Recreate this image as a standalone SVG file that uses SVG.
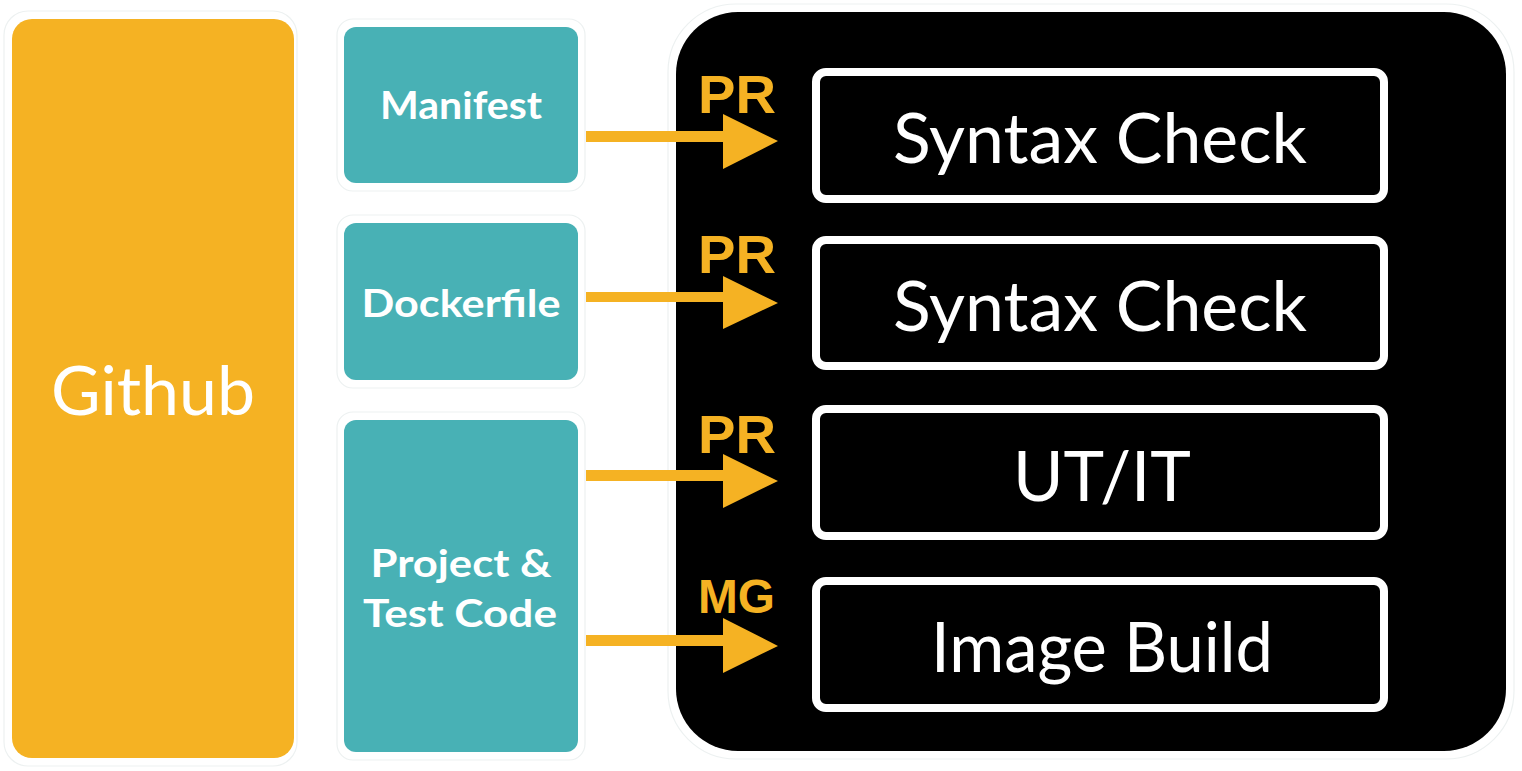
<svg xmlns="http://www.w3.org/2000/svg" width="1522" height="771" viewBox="0 0 1522 771">
<style>
.halo{fill:none;stroke:#edf1f1;stroke-width:1.2}
.teal{fill:#48B1B5}
.orange{fill:#F5B223}
.step{fill:#000;stroke:#fff;stroke-width:8}
.big{font-family:Lato,"Open Sans",sans-serif;font-size:70px;fill:#fff;text-anchor:middle}
.lbl{font-family:Lato,"Open Sans",sans-serif;font-weight:700;font-size:38px;fill:#fff;text-anchor:middle}
.tag{font-family:"Liberation Sans",Arial,sans-serif;font-weight:700;fill:#F5B223}
.arrow{fill:#F5B223}
</style>
<rect width="1522" height="771" fill="#fff"/>
<g id="github">
<rect class="halo" x="4" y="11" width="293" height="755" rx="24"/>
<rect class="orange" x="12" y="19" width="282" height="739" rx="20"/>
<text x="153" y="415" font-family="Lato,'Open Sans',sans-serif" font-size="67" fill="#fff" text-anchor="middle" textLength="204" lengthAdjust="spacingAndGlyphs">Github</text>
</g>
<g id="manifest">
<rect class="halo" x="337" y="19" width="248" height="172" rx="16"/>
<rect class="teal" x="344" y="27" width="234" height="156" rx="12"/>
<text class="lbl" x="461" y="119" textLength="162" lengthAdjust="spacingAndGlyphs">Manifest</text>
</g>
<g id="dockerfile">
<rect class="halo" x="337" y="215" width="248" height="173" rx="16"/>
<rect class="teal" x="344" y="223" width="234" height="157" rx="12"/>
<text class="lbl" x="461" y="317" textLength="199" lengthAdjust="spacingAndGlyphs">Dockerfile</text>
</g>
<g id="project">
<rect class="halo" x="337" y="412" width="248" height="348" rx="16"/>
<rect class="teal" x="344" y="420" width="234" height="332" rx="12"/>
<text class="lbl" x="461" y="577" textLength="181" lengthAdjust="spacingAndGlyphs">Project &amp;</text>
<text class="lbl" x="460" y="627" textLength="194" lengthAdjust="spacingAndGlyphs">Test Code</text>
</g>
<g id="pipeline">
<rect class="halo" x="668" y="4" width="846" height="755" rx="68"/>
<rect x="676" y="12" width="830" height="739" rx="62" fill="#000"/>
</g>
<g id="syntax-check-1">
<rect class="step" x="816" y="72" width="568" height="127" rx="10"/>
<text class="big" x="1100" y="163" textLength="414" lengthAdjust="spacingAndGlyphs">Syntax Check</text>
</g>
<g id="syntax-check-2">
<rect class="step" x="816" y="240" width="568" height="126" rx="10"/>
<text class="big" x="1100" y="331" textLength="414" lengthAdjust="spacingAndGlyphs">Syntax Check</text>
</g>
<g id="ut-it">
<rect class="step" x="816" y="409" width="568" height="127" rx="10"/>
<text class="big" x="1102" y="501" textLength="178" lengthAdjust="spacingAndGlyphs">UT/IT</text>
</g>
<g id="image-build">
<rect class="step" x="816" y="581" width="568" height="127" rx="10"/>
<text class="big" x="1102" y="672" textLength="342" lengthAdjust="spacingAndGlyphs">Image Build</text>
</g>
<g id="connectors">
<path class="arrow" d="M586,131 H723 V114 L778,141 L723,169 V142 H586 Z"/>
<path class="arrow" d="M586,292 H723 V276 L778,303 L723,329 V302 H586 Z"/>
<path class="arrow" d="M586,470 H723 V454 L778,481 L723,508 V481 H586 Z"/>
<path class="arrow" d="M586,635 H723 V618 L778,646 L723,673 V646 H586 Z"/>
<text class="tag" x="698" y="113" font-size="54" textLength="78" lengthAdjust="spacingAndGlyphs">PR</text>
<text class="tag" x="698" y="273" font-size="54" textLength="78" lengthAdjust="spacingAndGlyphs">PR</text>
<text class="tag" x="698" y="453" font-size="54" textLength="78" lengthAdjust="spacingAndGlyphs">PR</text>
<text class="tag" x="698" y="613" font-size="48" textLength="77" lengthAdjust="spacingAndGlyphs">MG</text>
</g>
</svg>
